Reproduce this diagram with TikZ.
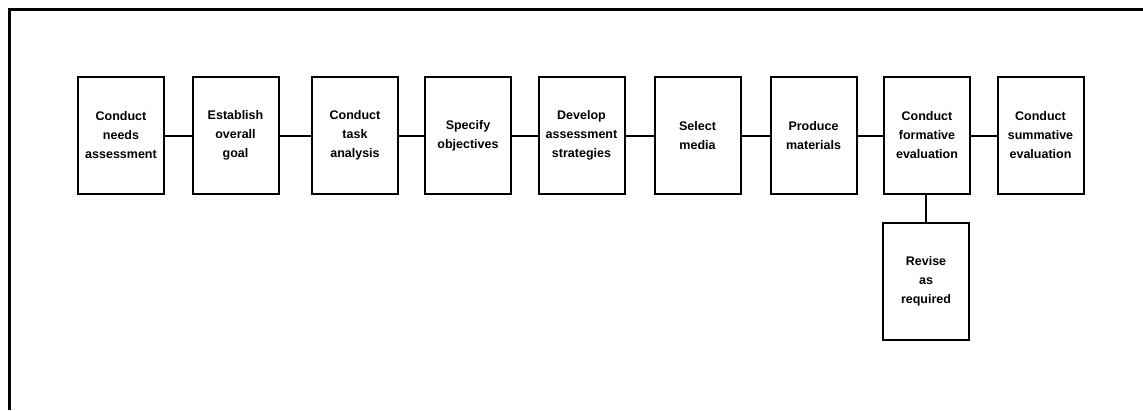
\documentclass[tikz,border=0pt]{standalone}
\usepackage{fontspec}
\setmainfont{Liberation Sans}
\begin{document}
\begin{tikzpicture}[x=1pt,y=-1pt,
  stepbox/.style={draw=black, line width=2pt, minimum width=86pt, minimum height=117pt,
    inner sep=0pt, align=center, font=\bfseries\fontsize{12.5}{19}\selectfont, text width=84pt},
  link/.style={draw=black, line width=2pt},
  framel/.style={draw=black, line width=3pt}]
\useasboundingbox (0,0) rectangle (1143,410);
\fill[white] (0,0) rectangle (1143,410);
\draw[framel] (9,410) -- (9,9) -- (1143,9);
\node[stepbox] (n1) at (121,135.5) {Conduct\\needs\\assessment};
\node[stepbox] (n2) at (235.5,135.5) {Establish\\overall\\goal};
\node[stepbox] (n3) at (355,135.5) {Conduct\\task\\analysis};
\node[stepbox] (n4) at (468,135.5) {Specify\\objectives};
\node[stepbox] (n5) at (581.5,135.5) {Develop\\assessment\\strategies};
\node[stepbox] (n6) at (697.5,135.5) {Select\\media};
\node[stepbox] (n7) at (813.5,135.5) {Produce\\materials};
\node[stepbox] (n8) at (927,135.5) {Conduct\\formative\\evaluation};
\node[stepbox] (n9) at (1040.5,135.5) {Conduct\\summative\\evaluation};
\node[stepbox] (r) at (926,281.5) {Revise\\as\\required};
\draw[link] (n1) -- (n2);
\draw[link] (n2) -- (n3);
\draw[link] (n3) -- (n4);
\draw[link] (n4) -- (n5);
\draw[link] (n5) -- (n6);
\draw[link] (n6) -- (n7);
\draw[link] (n7) -- (n8);
\draw[link] (n8) -- (n9);
\draw[link] (n8.south -| r.north) -- (r.north);
\end{tikzpicture}
\end{document}
